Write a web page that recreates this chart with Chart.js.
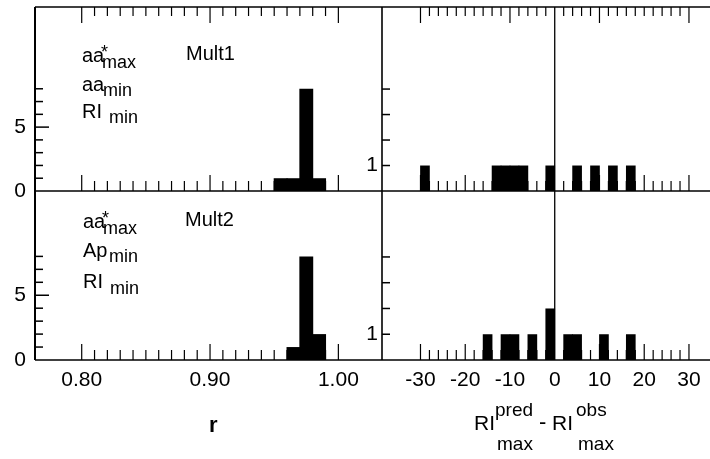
<!DOCTYPE html>
<html><head><meta charset="utf-8">
<script src="https://cdn.jsdelivr.net/npm/chart.js@4.4.1/dist/chart.umd.min.js"></script>
<style>
html,body{margin:0;padding:0;background:#fff;}
#wrap{position:relative;width:710px;height:459px;overflow:hidden;font-family:"Liberation Sans",Arial,Helvetica,sans-serif;color:#000;}
canvas{position:absolute;left:0;top:0;}
.t{position:absolute;white-space:nowrap;line-height:1;}
</style></head><body>
<div id="wrap">
<canvas id="cTL" width="710" height="459"></canvas>
<canvas id="cBL" width="710" height="459"></canvas>
<canvas id="cTR" width="710" height="459"></canvas>
<canvas id="cBR" width="710" height="459"></canvas>

<div class="t" style="left:82px;top:45px;font-size:20px">aa</div>
<div class="t" style="left:101px;top:43px;font-size:18px">*</div>
<div class="t" style="left:102px;top:53px;font-size:18px">max</div>
<div class="t" style="left:186px;top:43px;font-size:20px">Mult1</div>
<div class="t" style="left:82px;top:74px;font-size:20px">aa</div>
<div class="t" style="left:103px;top:81px;font-size:18px">min</div>
<div class="t" style="left:82px;top:101px;font-size:20px">RI</div>
<div class="t" style="left:109px;top:108px;font-size:18px">min</div>

<div class="t" style="left:83px;top:211px;font-size:20px">aa</div>
<div class="t" style="left:102px;top:209px;font-size:18px">*</div>
<div class="t" style="left:103px;top:219px;font-size:18px">max</div>
<div class="t" style="left:185px;top:209px;font-size:20px">Mult2</div>
<div class="t" style="left:83px;top:240px;font-size:20px">Ap</div>
<div class="t" style="left:109px;top:247px;font-size:18px">min</div>
<div class="t" style="left:83px;top:271px;font-size:20px">RI</div>
<div class="t" style="left:110px;top:279px;font-size:18px">min</div>

<div class="t" style="left:209px;top:414px;font-size:22px;font-weight:bold">r</div>
<div class="t" style="left:474px;top:412px;font-size:21px">RI</div>
<div class="t" style="left:495px;top:400px;font-size:19px">pred</div>
<div class="t" style="left:497px;top:434px;font-size:19px">max</div>
<div class="t" style="left:539px;top:411px;font-size:22px">-</div>
<div class="t" style="left:552px;top:412px;font-size:21px">RI</div>
<div class="t" style="left:576px;top:400px;font-size:19px">obs</div>
<div class="t" style="left:578px;top:434px;font-size:19px">max</div>
</div>
<script>
// ---- data ----
const rBins = [0.955, 0.965, 0.975, 0.985];
const mult1Counts = [1, 1, 8, 1];
const mult2Counts = [0, 1, 8, 2];
const riBinsTop = [-29, -13, -11, -9, -7, -1, 5, 9, 13, 17];
const riCountsTop = [1, 1, 1, 1, 1, 1, 1, 1, 1, 1];
const riBinsBottom = [-15, -11, -9, -5, -1, 3, 5, 11, 17];
const riCountsBottom = [1, 1, 1, 1, 2, 1, 1, 1, 1];
const rTickLabels = [0.80, 0.90, 1.00];
const riTickLabels = [-30, -20, -10, 0, 10, 20, 30];
const countTicksLeft = [0, 5];
const countTicksRight = [1];

const FONT = {family: '"Liberation Sans", Arial, sans-serif', size: 21};

function xy(xs, ys) { return xs.map((x, i) => ({x: x, y: ys[i]})); }

// minor tick value lists (axis decoration)
const rMinor = []; for (let i = 80; i <= 100; i++) rMinor.push({v: i / 100, major: i % 10 === 0, topMajor: i % 10 === 0});
const riMinor = []; for (let v = -30; v <= 30; v += 2) if (v !== 0) riMinor.push({v: v, major: v % 10 === 0, topMajor: v % 20 !== 0 && v % 10 === 0});
const leftCountMinor = [1, 2, 3, 4, 5, 6, 7, 8];
const rightCountMinor = [1, 2, 3, 4];

const framePlugin = {
  id: 'frame',
  afterDatasetsDraw(chart, args, o) {
    const ctx = chart.ctx, a = chart.chartArea;
    const xs = chart.scales.x, ys = chart.scales.y;
    ctx.save();
    ctx.strokeStyle = '#000';
    ctx.lineCap = 'butt';
    function line(x1, y1, x2, y2, w) {
      ctx.lineWidth = w; ctx.beginPath(); ctx.moveTo(x1, y1); ctx.lineTo(x2, y2); ctx.stroke();
    }
    line(a.left, a.top, a.left, a.bottom, o.leftW);
    line(a.left, a.bottom, a.right, a.bottom, 1.6);
    if (o.top) line(a.left, a.top, a.right, a.top, 1.6);
    if (o.zero) { const zx = xs.getPixelForValue(0); line(zx, a.top, zx, a.bottom, 1.3); }
    o.yMinor.forEach(v => {
      const py = ys.getPixelForValue(v);
      const len = (o.yMajor.indexOf(v) >= 0) ? o.yMajorLen : 8;
      line(a.left, py, a.left + len, py, 1.5);
    });
    o.xMinor.forEach(t => {
      const px = xs.getPixelForValue(t.v);
      line(px, a.bottom, px, a.bottom - (t.major ? 16 : 10), 1.2);
      if (o.top) line(px, a.top, px, a.top + (t.topMajor ? 16 : 9), 1.2);
    });
    ctx.restore();
  }
};

function noPad(s) { s.paddingTop = 0; s.paddingBottom = 0; s.paddingLeft = 0; s.paddingRight = 0; }

function makeChart(id, cfg) {
  const showX = cfg.showX;
  return new Chart(document.getElementById(id), {
    type: 'bar',
    data: {datasets: [{data: xy(cfg.bins, cfg.counts), backgroundColor: '#000', borderWidth: 0,
      barPercentage: 1.08, categoryPercentage: 1}]},
    options: {
      responsive: false, animation: false, devicePixelRatio: 1,
      layout: {padding: cfg.padding},
      plugins: {legend: {display: false}, tooltip: {enabled: false}, frame: cfg.frame},
      scales: {
        x: {
          type: 'linear', min: cfg.xMin, max: cfg.xMax, offset: false, display: showX,
          grid: {display: false, drawTicks: false}, border: {display: false},
          afterBuildTicks: s => { s.ticks = cfg.xLabels.map(v => ({value: v})); },
          afterFit: s => { s.height = showX ? 40 : 0; noPad(s); },
          ticks: {font: FONT, color: '#000', padding: 8, maxRotation: 0, autoSkip: false,
            callback: cfg.xFmt}
        },
        y: {
          type: 'linear', min: 0, max: cfg.yMax,
          grid: {display: false, drawTicks: false}, border: {display: false},
          afterBuildTicks: s => { s.ticks = cfg.yLabels.map(v => ({value: v})); },
          afterFit: s => { s.width = cfg.yWidth; noPad(s); },
          ticks: {font: FONT, color: '#000', padding: cfg.yPad, callback: v => String(v)}
        }
      }
    },
    plugins: [framePlugin]
  });
}

const rFmt = v => Number(v).toFixed(2);
const riFmt = v => String(v);

makeChart('cTL', {
  bins: rBins, counts: mult1Counts, showX: false, xMin: 0.7636, xMax: 1.034, yMax: 14.4,
  xLabels: rTickLabels, yLabels: countTicksLeft, xFmt: rFmt, yWidth: 35, yPad: 9,
  padding: {left: 0, top: 7, right: 328, bottom: 268},
  frame: {leftW: 2, top: true, zero: false, yMinor: leftCountMinor, yMajor: [5], yMajorLen: 14, xMinor: rMinor}
});
makeChart('cBL', {
  bins: rBins, counts: mult2Counts, showX: true, xMin: 0.7636, xMax: 1.034, yMax: 13.05,
  xLabels: rTickLabels, yLabels: countTicksLeft, xFmt: rFmt, yWidth: 35, yPad: 9,
  padding: {left: 0, top: 191, right: 328, bottom: 59},
  frame: {leftW: 2, top: false, zero: false, yMinor: leftCountMinor, yMajor: [5], yMajorLen: 14, xMinor: rMinor}
});
makeChart('cTR', {
  bins: riBinsTop, counts: riCountsTop, showX: false, xMin: -38.6, xMax: 34.7, yMax: 7.22,
  xLabels: riTickLabels, yLabels: countTicksRight, xFmt: riFmt, yWidth: 27, yPad: 4,
  padding: {left: 355, top: 7, right: 0, bottom: 268},
  frame: {leftW: 1.6, top: true, zero: true, yMinor: rightCountMinor, yMajor: [], yMajorLen: 8, xMinor: riMinor}
});
makeChart('cBR', {
  bins: riBinsBottom, counts: riCountsBottom, showX: true, xMin: -38.6, xMax: 34.7, yMax: 6.56,
  xLabels: riTickLabels, yLabels: countTicksRight, xFmt: riFmt, yWidth: 27, yPad: 4,
  padding: {left: 355, top: 191, right: 0, bottom: 59},
  frame: {leftW: 1.6, top: false, zero: true, yMinor: rightCountMinor, yMajor: [], yMajorLen: 8, xMinor: riMinor}
});
</script>
</body></html>
